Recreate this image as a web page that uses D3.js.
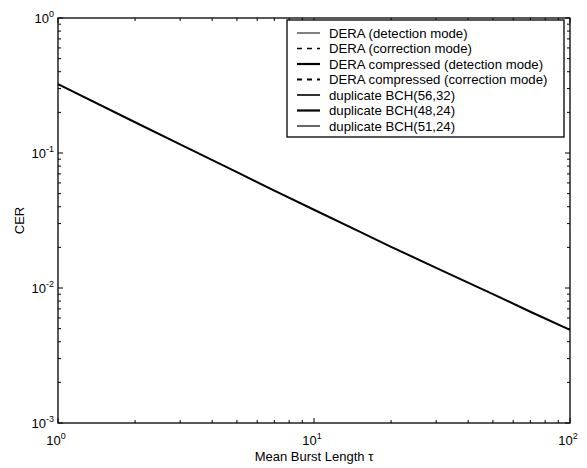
<!DOCTYPE html>
<html>
<head>
<meta charset="utf-8">
<script src="https://cdn.jsdelivr.net/npm/d3@7"></script>
<style>
  body { margin: 0; background: #fff; }
  text { font-family: "Liberation Sans", Arial, sans-serif; fill: #000; }
</style>
</head>
<body>
<div id="chart"></div>
<script>
// mean burst length (tau) and code error rate
var tau = [1, 2, 3, 5, 7, 10, 15, 20, 30, 50, 70, 100];
var cer = [0.324, 0.169, 0.116, 0.0721, 0.0527, 0.038, 0.0263, 0.0202, 0.0141, 0.00902, 0.00667, 0.00489];

var legendLabels = [
    "DERA (detection mode)",
    "DERA (correction mode)",
    "DERA compressed (detection mode)",
    "DERA compressed (correction mode)",
    "duplicate BCH(56,32)",
    "duplicate BCH(48,24)",
    "duplicate BCH(51,24)"
];
var legendWidths = [1, 1.5, 2.2, 2, 1.6, 2.2, 1.2];
var legendDash = [null, "5,5", null, "5,5", null, null, null];

var xTicks = [1, 10, 100];
var yTicks = [0.001, 0.01, 0.1, 1];

var width = 587, height = 468;
var pLeft = 58, pRight = 570, pTop = 18, pBottom = 423;

var svg = d3.select("#chart").append("svg")
    .attr("width", width)
    .attr("height", height);

var x = d3.scaleLog().domain([1, 100]).range([pLeft, pRight]);
var y = d3.scaleLog().domain([0.001, 1]).range([pBottom, pTop]);

// minor ticks for both log axes
function minorTicks(scale){
    var out = [];
    var d = scale.domain();
    for(var e = Math.round(Math.log10(d[0])); e < Math.round(Math.log10(d[1])); e++){
        for(var k = 2; k <= 9; k++){
            out.push(k * Math.pow(10, e));
        }
    }
    return out;
}

var g = svg.append("g");

// box
g.append("rect")
    .attr("x", pLeft).attr("y", pTop)
    .attr("width", pRight - pLeft).attr("height", pBottom - pTop)
    .attr("fill", "none").attr("stroke", "#000").attr("stroke-width", 1.3);

// ticks on all four sides, pointing in
xTicks.forEach(function(t){
    g.append("line").attr("x1", x(t)).attr("x2", x(t)).attr("y1", pBottom).attr("y2", pBottom - 5).attr("stroke", "#000");
    g.append("line").attr("x1", x(t)).attr("x2", x(t)).attr("y1", pTop).attr("y2", pTop + 5).attr("stroke", "#000");
});
minorTicks(x).forEach(function(t){
    g.append("line").attr("x1", x(t)).attr("x2", x(t)).attr("y1", pBottom).attr("y2", pBottom - 3).attr("stroke", "#000");
    g.append("line").attr("x1", x(t)).attr("x2", x(t)).attr("y1", pTop).attr("y2", pTop + 3).attr("stroke", "#000");
});
yTicks.forEach(function(t){
    g.append("line").attr("y1", y(t)).attr("y2", y(t)).attr("x1", pLeft).attr("x2", pLeft + 5).attr("stroke", "#000");
    g.append("line").attr("y1", y(t)).attr("y2", y(t)).attr("x1", pRight).attr("x2", pRight - 5).attr("stroke", "#000");
});
minorTicks(y).forEach(function(t){
    g.append("line").attr("y1", y(t)).attr("y2", y(t)).attr("x1", pLeft).attr("x2", pLeft + 3).attr("stroke", "#000");
    g.append("line").attr("y1", y(t)).attr("y2", y(t)).attr("x1", pRight).attr("x2", pRight - 3).attr("stroke", "#000");
});

// tick labels as 10^n
function powLabel(sel, t){
    var e = Math.round(Math.log10(t));
    sel.append("tspan").text("10");
    sel.append("tspan").attr("dy", -6).attr("font-size", 9).text(e < 0 ? "-" + (-e) : "" + e);
}
xTicks.forEach(function(t){
    var lab = svg.append("text")
        .attr("x", x(t) - 2).attr("y", pBottom + 22)
        .attr("text-anchor", "middle")
        .attr("font-size", 13);
    powLabel(lab, t);
});
yTicks.forEach(function(t){
    var lab = svg.append("text")
        .attr("x", pLeft - 4).attr("y", y(t) + 5)
        .attr("text-anchor", "end")
        .attr("font-size", 13);
    powLabel(lab, t);
});

// axis titles
svg.append("text")
    .attr("x", (pLeft + pRight) / 2).attr("y", 461)
    .attr("text-anchor", "middle")
    .attr("font-size", 13)
    .text("Mean Burst Length \u03c4");
svg.append("text")
    .attr("transform", "translate(24," + ((pTop + pBottom) / 2) + ") rotate(-90)")
    .attr("text-anchor", "middle")
    .attr("font-size", 13)
    .text("CER");

// the curve (all series overlap)
var line = d3.line()
    .x(function(d, i){ return x(tau[i]); })
    .y(function(d){ return y(d); });
g.append("path")
    .datum(cer)
    .attr("d", line)
    .attr("fill", "none")
    .attr("stroke", "#000")
    .attr("stroke-width", 2);

// legend
var lg = svg.append("g").attr("transform", "translate(287,20)");
lg.append("rect")
    .attr("width", 277).attr("height", 117)
    .attr("fill", "#fff").attr("stroke", "#000").attr("stroke-width", 1.3);
legendLabels.forEach(function(l, i){
    var yy = 13 + i * 15.5;
    lg.append("line")
        .attr("x1", 10).attr("x2", 33)
        .attr("y1", yy).attr("y2", yy)
        .attr("stroke", "#000")
        .attr("stroke-width", legendWidths[i])
        .attr("stroke-dasharray", legendDash[i]);
    lg.append("text")
        .attr("x", 42).attr("y", yy + 4.5)
        .attr("font-size", 13.2)
        .text(l);
});
</script>
</body>
</html>
